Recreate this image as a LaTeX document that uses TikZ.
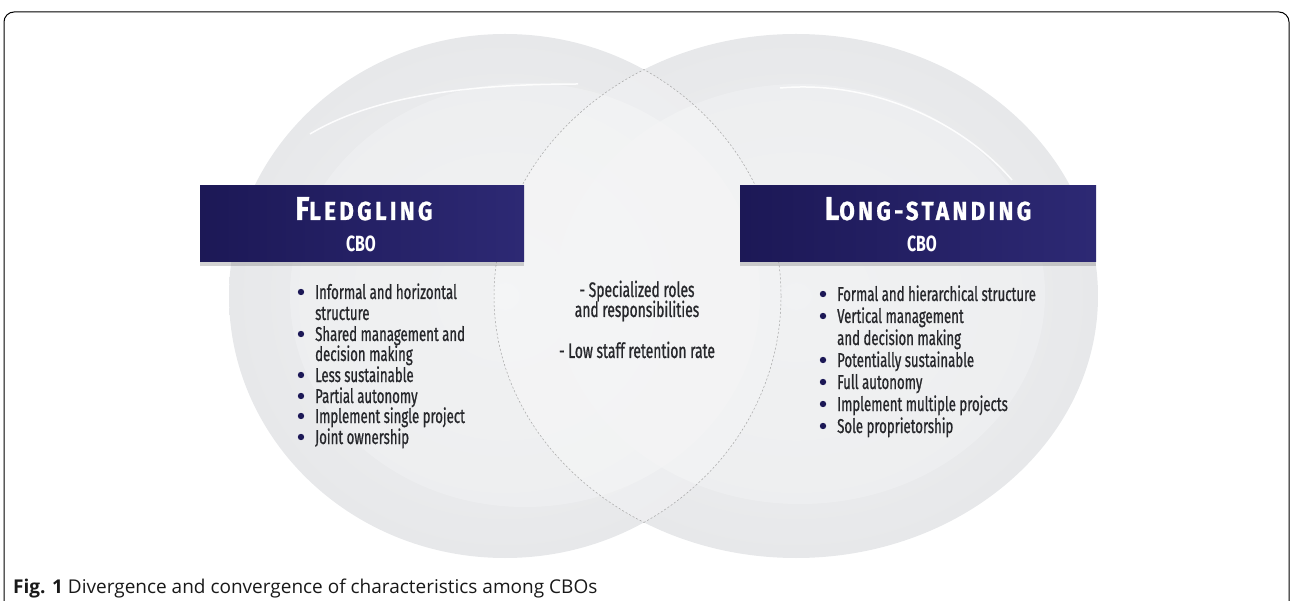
\documentclass[tikz,border=0pt]{standalone}
\usepackage{fontspec}
\usepackage{tikz}
\usetikzlibrary{shadows,positioning}
\setmainfont{Open Sans}
\newfontfamily\condfont{Fira Sans}[FakeStretch=0.66, FakeBold=0.8]
\newfontfamily\headfont{Fira Sans}[FakeStretch=0.86, LetterSpace=13, FakeBold=1]
\newfontfamily\cbofont{Fira Sans}[FakeStretch=0.72]

\definecolor{navy}{HTML}{1C1856}
\definecolor{navylight}{HTML}{2D2974}
\definecolor{platec}{HTML}{E7E8EA}
\definecolor{wellc}{HTML}{F1F2F3}
\definecolor{textc}{HTML}{26272B}
\definecolor{dotc}{HTML}{1C1856}

\tikzset{
  headbox/.style={rectangle, left color=navy, right color=navylight, inner sep=0pt,
    drop shadow={opacity=0.35, shadow xshift=0pt, shadow yshift=-4pt}},
  headtext/.style={anchor=base, text=white, inner sep=0pt, font=\headfont\bfseries},
  cbotext/.style={anchor=base, text=white, inner sep=0pt,
    font=\cbofont\bfseries\fontsize{22}{22}\selectfont},
  item/.style={anchor=base west, inner sep=0pt, text=textc,
    font=\condfont\fontsize{20}{20}\selectfont},
  midtext/.style={anchor=base, inner sep=0pt, text=textc,
    font=\condfont\fontsize{21}{21}\selectfont},
  shine/.style={white, line width=1.5pt, opacity=0.9},
  lens/.style={gray!70, dash pattern=on 2pt off 2pt, line width=0.5pt},
}

\begin{document}
\begin{tikzpicture}[x=1pt, y=-1pt]
        \useasboundingbox (0,0) rectangle (1290,601);

        % frame
        \draw[line width=1pt] (4,601) -- (4,22) arc[start angle=180, end angle=270, radius=10]
            -- (1279,12) arc[start angle=270, end angle=360, radius=10] -- (1289,601);

        % plates
        \shade[inner color=wellc, outer color=platec] (796,296) ellipse [x radius=302, y radius=262];
        \shade[inner color=wellc, outer color=platec] (505,296) ellipse [x radius=276, y radius=262];
        \fill[wellc, opacity=0.6] (800,294) ellipse [x radius=245, y radius=210];
        \fill[wellc, opacity=0.6] (525,295) ellipse [x radius=235, y radius=212];
        \draw[shine] (310,134) .. controls (370,98) and (460,84) .. (578,84);
        \draw[shine] (780,88) .. controls (870,80) and (960,120) .. (1012,180);

        % overlap
        \begin{scope}
            \clip (505,296) ellipse [x radius=276, y radius=262];
            \fill[white, opacity=0.25] (796,296) ellipse [x radius=302, y radius=262];
            \draw[lens] (796,296) ellipse [x radius=302, y radius=262];
        \end{scope}
        \begin{scope}
            \clip (796,296) ellipse [x radius=302, y radius=262];
            \draw[lens] (505,296) ellipse [x radius=276, y radius=262];
        \end{scope}

        % headers
        \node[headbox, minimum width=324pt, minimum height=76pt] (fledgebox) at (362,224) {};
        \node[headtext] (fledge) at (364,220) {{\fontsize{33}{33}\selectfont F}{\fontsize{26}{26}\selectfont LEDGLING}};
        \node[cbotext] (fledgecbo) at (361,252) {CBO};

        \node[headbox, minimum width=356pt, minimum height=76pt] (longbox) at (918,224) {};
        \node[headtext] (long) at (928,220) {{\fontsize{33}{33}\selectfont L}{\fontsize{26}{26}\selectfont ONG-STANDING}};
        \node[cbotext] (longcbo) at (922,252) {CBO};

        % left list
        \node[item] (l1) at (315,299) {Informal and horizontal};
        \node[item] (l1b) at (315,320) {structure};
        \node[item] (l2) at (315,341) {Shared management and};
        \node[item] (l2b) at (315,361) {decision making};
        \node[item] (l3) at (315,382) {Less sustainable};
        \node[item] (l4) at (315,403) {Partial autonomy};
        \node[item] (l5) at (315,423) {Implement single project};
        \node[item] (l6) at (315,444) {Joint ownership};
        \foreach \y in {299,341,382,403,423,444}
            \fill[dotc] (301,\y-7) circle (3.2);

        % middle
        \node[midtext] (m1) at (637,297) {- Specialized roles};
        \node[midtext] (m1b) at (637,317) {and responsibilities};
        \node[midtext] (m2) at (637,358) {- Low staff retention rate};

        % right list
        \node[item] (r1) at (837,301) {Formal and hierarchical structure};
        \node[item] (r2) at (837,323) {Vertical management};
        \node[item] (r2b) at (837,345) {and decision making};
        \node[item] (r3) at (837,367) {Potentially sustainable};
        \node[item] (r4) at (837,389) {Full autonomy};
        \node[item] (r5) at (837,411) {Implement multiple projects};
        \node[item] (r6) at (837,433) {Sole proprietorship};
        \foreach \y in {301,323,367,389,411,433}
            \fill[dotc] (823,\y-7) circle (3.2);

        % caption
        \node[anchor=base west, inner sep=0pt, text=black!90, font=\fontsize{19}{19}\selectfont] (caption) at (13,593)
            {\textbf{Fig. 1} Divergence and convergence of characteristics among CBOs};
\end{tikzpicture}
\end{document}
